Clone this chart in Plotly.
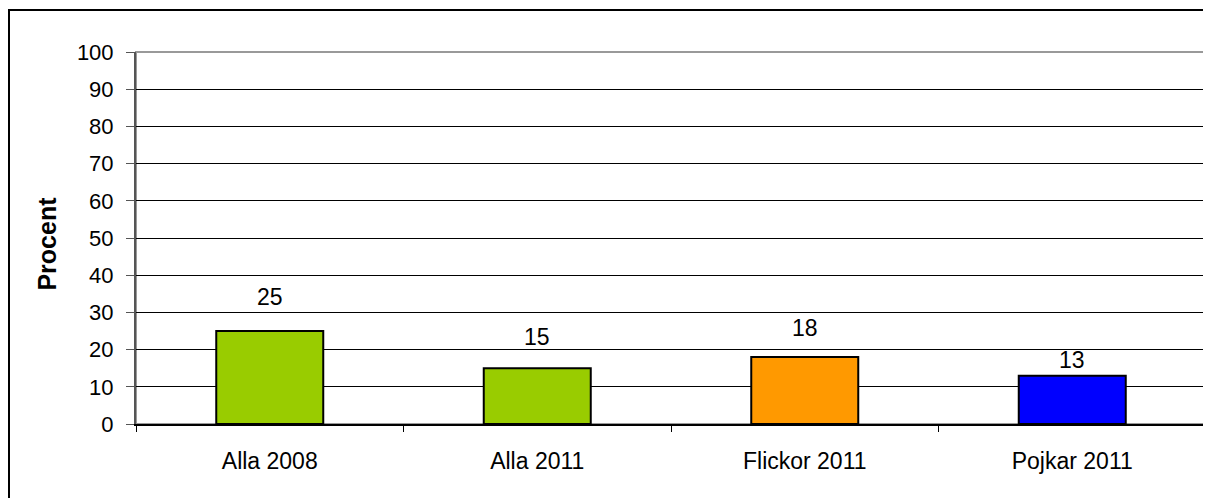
import plotly.graph_objects as go

categories = ["Alla 2008", "Alla 2011", "Flickor 2011", "Pojkar 2011"]
values = [25, 15, 18, 13]
colors = ["#99CC00", "#99CC00", "#FF9900", "#0000FF"]
y_ticks = list(range(0, 101, 10))

# the value labels do not sit at one fixed distance above the bars
label_shift = [19, 16, 14, 1]

fig = go.Figure()

fig.add_trace(
    go.Bar(
        x=categories,
        y=values,
        marker=dict(color=colors, line=dict(color="black", width=2)),
        width=0.4,
        showlegend=False
    )
)

for cat, val, shift in zip(categories, values, label_shift):
    fig.add_annotation(
        x=cat, y=val, text=str(val), showarrow=False,
        yanchor="bottom", yshift=shift,
        font=dict(size=23, color="black")
    )

# y axis title, placed by hand to sit like the original
fig.add_annotation(
    xref="paper", yref="paper", x=-89 / 1070, y=0.485,
    xanchor="center", yanchor="middle",
    text="<b>Procent</b>", textangle=-90, showarrow=False,
    font=dict(size=25, color="black")
)

fig.update_layout(
    width=1203,
    height=490,
    margin=dict(l=128, r=5, t=44, b=74),
    paper_bgcolor="white",
    plot_bgcolor="white",
    font=dict(family="Liberation Sans, Arial", size=23, color="black"),
    shapes=[
        dict(type="rect", xref="paper", yref="paper",
             x0=-127 / 1070, x1=1.05, y0=-0.3, y1=414 / 372,
             line=dict(color="black", width=2), layer="below"),
        dict(type="rect", xref="paper", yref="paper",
             x0=0, x1=1, y0=0, y1=1,
             line=dict(color="#999999", width=2), layer="below")
    ]
)

fig.update_yaxes(
    range=[0, 100],
    tickvals=y_ticks,
    tickfont=dict(size=22),
    showgrid=True,
    gridcolor="black",
    gridwidth=1,
    showline=True,
    linecolor="#555555",
    linewidth=2,
    ticks="outside",
    ticklen=8,
    tickcolor="#555555",
    ticklabelstandoff=8,
    zeroline=False
)

fig.update_xaxes(
    showline=True,
    linecolor="black",
    linewidth=2,
    ticks="outside",
    tickson="boundaries",
    ticklen=6,
    tickcolor="black",
    tickfont=dict(size=23),
    ticklabelstandoff=15,
    range=[-0.5, 3.5]
)

fig.write_html("out.html")
